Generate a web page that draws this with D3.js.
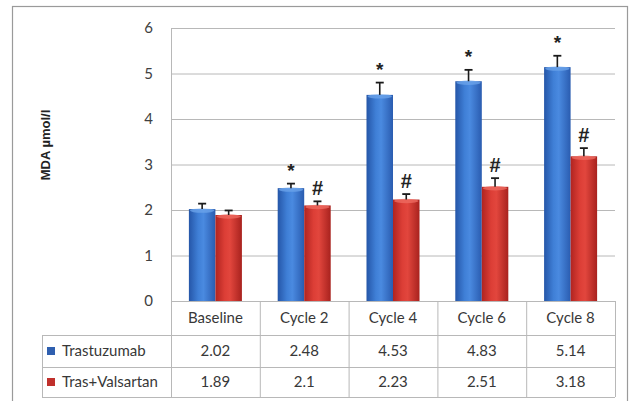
<!DOCTYPE html>
<html><head><meta charset="utf-8">
<script src="https://cdn.jsdelivr.net/npm/d3@7"></script>
<style>html,body{margin:0;padding:0;background:#fff;}svg{display:block;}</style>
</head><body>
<svg id="chart" width="633" height="401"></svg>
<script>
const categories = ["Baseline", "Cycle 2", "Cycle 4", "Cycle 6", "Cycle 8"];
const seriesNames = ["Trastuzumab", "Tras+Valsartan"];
const trastuzumab = [2.02, 2.48, 4.53, 4.83, 5.14];
const trasValsartan = [1.89, 2.1, 2.23, 2.51, 3.18];
const trastuzumabErr = [0.12, 0.1, 0.27, 0.25, 0.25];
const trasValsartanErr = [0.1, 0.09, 0.12, 0.19, 0.18];
const trastuzumabMark = ["", "*", "*", "*", "*"];
const trasValsartanMark = ["", "#", "#", "#", "#"];
const yTicks = [0, 1, 2, 3, 4, 5, 6];
const yLabel = "MDA µmol/l";

const series = [
  {name: seriesNames[0], values: trastuzumab, err: trastuzumabErr, marks: trastuzumabMark, grad: "gBlue", key: "#2f5faf"},
  {name: seriesNames[1], values: trasValsartan, err: trasValsartanErr, marks: trasValsartanMark, grad: "gRed", key: "#c0302c"}
];

const svg = d3.select("#chart");
const font = "Lato, 'Open Sans', sans-serif";

// outer frame
svg.append("rect").attr("x", 12.5).attr("y", 6.5).attr("width", 615).attr("height", 400)
  .attr("fill", "none").attr("stroke", "#9a9a9a").attr("stroke-width", 1.2);

const defs = svg.append("defs");
function grad(id, stops) {
  const g = defs.append("linearGradient").attr("id", id).attr("x1", "0").attr("x2", "1").attr("y1", "0").attr("y2", "0");
  stops.forEach(s => g.append("stop").attr("offset", s[0]).attr("stop-color", s[1]));
}
grad("gBlue", [[0, "#2556a8"], [0.35, "#3f7fd6"], [0.55, "#4a8ae0"], [1, "#2a5cb0"]]);
grad("gRed", [[0, "#b02420"], [0.35, "#dc3e36"], [0.55, "#e2463d"], [1, "#a8221e"]]);

const plotL = 171, plotR = 615, plotT = 28, plotB = 301;
const y = d3.scaleLinear().domain([0, 6]).range([plotB, plotT]);
const x0 = d3.scaleBand().domain(categories).range([plotL, plotR]).padding(0);
const x1 = d3.scaleBand().domain(seriesNames).range([0, x0.bandwidth()]).paddingInner(0).paddingOuter(0.675);

// grid + y axis
const yAxis = d3.axisLeft(y).tickValues(yTicks).tickSize(-(plotR - plotL)).tickPadding(18).tickFormat(d3.format("d"));
const ga = svg.append("g").attr("transform", `translate(${plotL},0)`).call(yAxis);
ga.select(".domain").remove();
ga.selectAll(".tick line").attr("stroke", "#b8b8b8").attr("stroke-width", 1);
ga.selectAll(".tick text").attr("fill", "#404040").style("font-family", font).style("font-size", "15px");
// left vertical line of plot
svg.append("line").attr("x1", plotL + 0.5).attr("x2", plotL + 0.5).attr("y1", plotT).attr("y2", 397)
  .attr("stroke", "#b8b8b8");

// y label
svg.append("text").attr("transform", `translate(50,145) rotate(-90)`).attr("text-anchor", "middle")
  .style("font-family", "'Liberation Sans', Arial, sans-serif").style("font-size", "13px").style("font-weight", "bold")
  .attr("fill", "#222").text(yLabel);

// bars
const groups = svg.append("g").selectAll("g").data(categories).join("g")
  .attr("transform", d => `translate(${x0(d)},0)`);

series.forEach(s => {
  const g = groups;
  g.append("rect")
    .attr("x", x1(s.name)).attr("width", x1.bandwidth())
    .attr("y", (d, i) => y(s.values[i])).attr("height", (d, i) => y(0) - y(s.values[i]))
    .attr("fill", `url(#${s.grad})`);
  g.append("ellipse")
    .attr("cx", x1(s.name) + x1.bandwidth() / 2).attr("cy", (d, i) => y(s.values[i]) + 1.5)
    .attr("rx", x1.bandwidth() / 2 - 1).attr("ry", 2.2)
    .attr("fill", s.grad === "gBlue" ? "#6aa2ea" : "#ee6a60").attr("opacity", 0.8);
  // error bars
  const cx = x1(s.name) + x1.bandwidth() / 2;
  g.append("line").attr("x1", cx).attr("x2", cx)
    .attr("y1", (d, i) => y(s.values[i])).attr("y2", (d, i) => y(s.values[i] + s.err[i]))
    .attr("stroke", "#1a1a1a").attr("stroke-width", 1.6);
  g.append("line").attr("x1", cx - 4).attr("x2", cx + 4)
    .attr("y1", (d, i) => y(s.values[i] + s.err[i])).attr("y2", (d, i) => y(s.values[i] + s.err[i]))
    .attr("stroke", "#1a1a1a").attr("stroke-width", 1.8);
  g.append("text").attr("x", cx).attr("text-anchor", "middle")
    .attr("y", (d, i) => y(s.values[i] + s.err[i]) - (s.marks[i] === "*" ? 7 : 6))
    .style("font-family", "'Liberation Sans', Arial, sans-serif")
    .style("font-size", (d, i) => s.marks[i] === "*" ? "19px" : "20px")
    .style("font-weight", "bold").attr("fill", "#222")
    .text((d, i) => s.marks[i]);
});

// data table
const rowTop = [plotB, 335, 367, 397];
const tableL = 42;
const lineColor = "#b8b8b8";
const tl = svg.append("g");
[335, 367, 397].forEach(yy => tl.append("line").attr("x1", tableL).attr("x2", plotR).attr("y1", yy + 0.5).attr("y2", yy + 0.5).attr("stroke", lineColor));
tl.append("line").attr("x1", tableL + 0.5).attr("x2", tableL + 0.5).attr("y1", 335).attr("y2", 397).attr("stroke", lineColor);
categories.forEach(c => {
  const xr = x0(c) + x0.bandwidth();
  tl.append("line").attr("x1", xr + 0.5).attr("x2", xr + 0.5).attr("y1", plotB).attr("y2", 397).attr("stroke", lineColor);
});
tl.selectAll("text.hdr").data(categories).join("text").attr("class", "hdr")
  .attr("x", d => x0(d) + x0.bandwidth() / 2).attr("y", (rowTop[0] + rowTop[1]) / 2 + 5)
  .attr("text-anchor", "middle").style("font-family", font).style("font-size", "15px").attr("fill", "#383838")
  .text(d => d);
series.forEach((s, si) => {
  const cy = (rowTop[si + 1] + rowTop[si + 2]) / 2;
  tl.append("rect").attr("x", 47).attr("y", cy - 4).attr("width", 8).attr("height", 8).attr("fill", s.key);
  tl.append("text").attr("x", 62).attr("y", cy + 5).style("font-family", font).style("font-size", "15px")
    .attr("fill", "#383838").text(s.name);
  tl.selectAll(null).data(categories).join("text")
    .attr("x", d => x0(d) + x0.bandwidth() / 2).attr("y", cy + 5).attr("text-anchor", "middle")
    .style("font-family", font).style("font-size", "15px").attr("fill", "#383838")
    .text((d, i) => String(s.values[i]));
});
</script>
</body></html>
